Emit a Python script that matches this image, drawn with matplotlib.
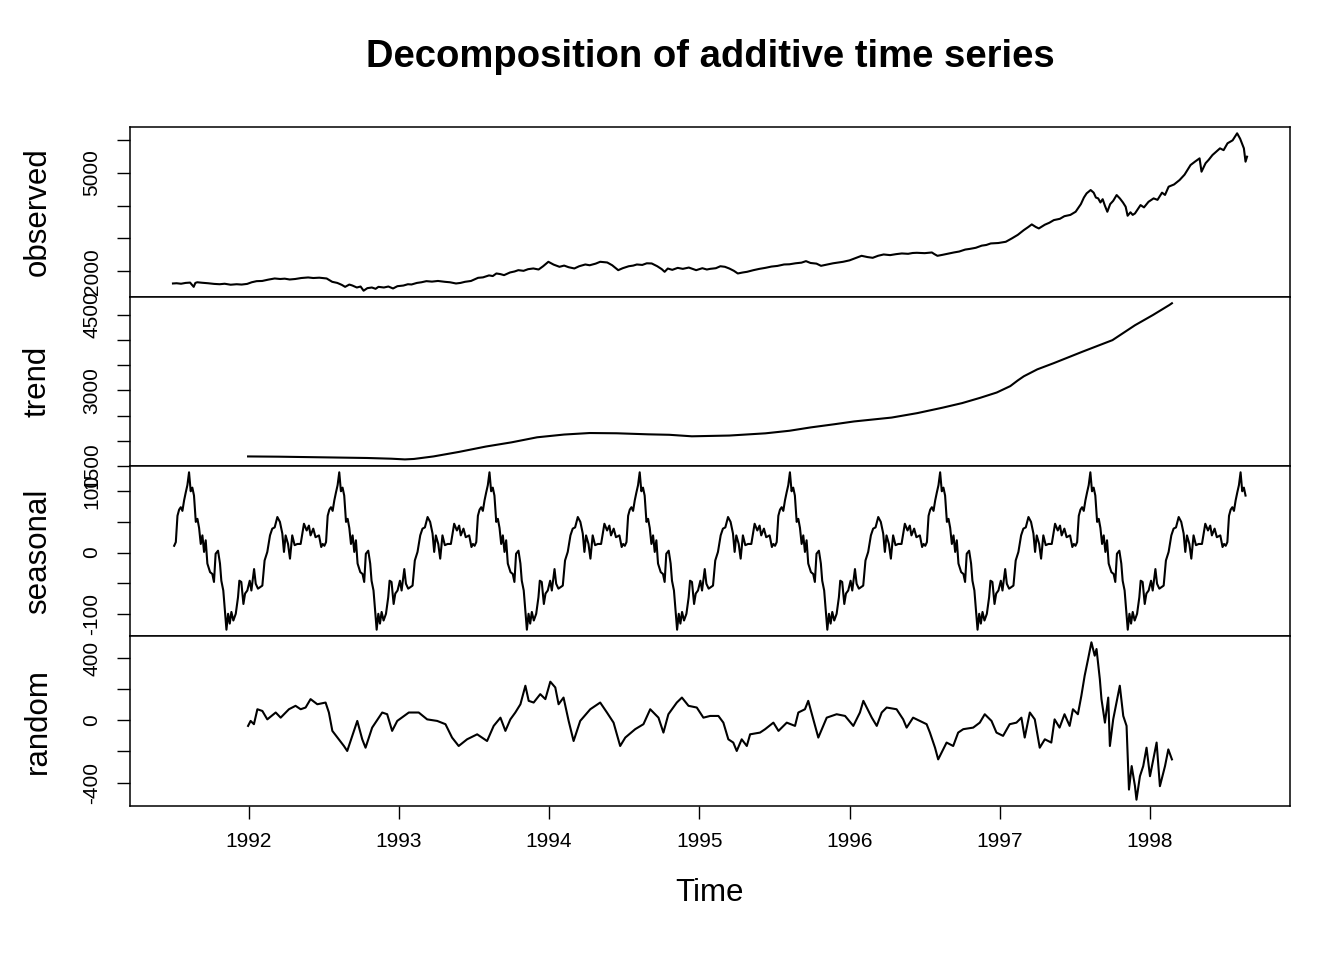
import numpy as np
import matplotlib.pyplot as plt

plt.rcParams['font.family'] = ['Liberation Sans', 'DejaVu Sans']

# observed (DAX closing)
obs_t = [1991.496, 1991.52, 1991.55, 1991.58, 1991.61, 1991.634, 1991.645, 1991.658, 1991.69, 1991.73,
         1991.77, 1991.807, 1991.84, 1991.88, 1991.92, 1991.953, 1991.99, 1992.02, 1992.053, 1992.09,
         1992.13, 1992.173, 1992.21, 1992.24, 1992.273, 1992.31, 1992.35, 1992.396, 1992.43, 1992.47,
         1992.519, 1992.556, 1992.59, 1992.62, 1992.642, 1992.67, 1992.69, 1992.72, 1992.745, 1992.765,
         1992.79, 1992.82, 1992.845, 1992.864, 1992.9, 1992.93, 1992.961, 1992.99, 1993.03, 1993.06,
         1993.084, 1993.12, 1993.15, 1993.183, 1993.22, 1993.26, 1993.306, 1993.34, 1993.38, 1993.41,
         1993.44, 1993.48, 1993.527, 1993.56, 1993.6, 1993.625, 1993.649, 1993.675, 1993.70, 1993.74,
         1993.77, 1993.795, 1993.83, 1993.86, 1993.895, 1993.93, 1993.96, 1993.995, 1994.03, 1994.069,
         1994.1, 1994.13, 1994.168, 1994.2, 1994.241, 1994.27, 1994.31, 1994.34, 1994.387, 1994.42,
         1994.46, 1994.49, 1994.53, 1994.56, 1994.584, 1994.62, 1994.65, 1994.683, 1994.72, 1994.75,
         1994.769, 1994.79, 1994.82, 1994.856, 1994.89, 1994.93, 1994.96, 1994.979, 1995.02, 1995.05,
         1995.072, 1995.11, 1995.14, 1995.17, 1995.2, 1995.23, 1995.256, 1995.29, 1995.318, 1995.36,
         1995.4, 1995.441, 1995.48, 1995.52, 1995.564, 1995.6, 1995.64, 1995.68, 1995.71, 1995.74,
         1995.78, 1995.81, 1995.85, 1995.89, 1995.92, 1995.957, 1996.0, 1996.04, 1996.08, 1996.12,
         1996.154, 1996.19, 1996.227, 1996.27, 1996.31, 1996.348, 1996.39, 1996.42, 1996.448, 1996.5,
         1996.548, 1996.565, 1996.585, 1996.62, 1996.66, 1996.694, 1996.73, 1996.77, 1996.8, 1996.84,
         1996.88, 1996.91, 1996.94, 1996.99, 1997.04, 1997.08, 1997.12, 1997.16, 1997.19, 1997.213,
         1997.24, 1997.26, 1997.3, 1997.33, 1997.36, 1997.4, 1997.43, 1997.47, 1997.505, 1997.54,
         1997.56, 1997.578, 1997.605, 1997.625, 1997.64, 1997.655, 1997.67, 1997.685, 1997.7, 1997.716,
         1997.735, 1997.755, 1997.778, 1997.8, 1997.82, 1997.838, 1997.851, 1997.87, 1997.885, 1997.90,
         1997.92, 1997.937, 1997.96, 1997.99, 1998.024, 1998.05, 1998.08, 1998.1, 1998.124, 1998.16,
         1998.197, 1998.23, 1998.27, 1998.3, 1998.33, 1998.343, 1998.37, 1998.39, 1998.416, 1998.44,
         1998.466, 1998.49, 1998.516, 1998.55, 1998.58, 1998.6, 1998.625, 1998.636, 1998.646]
obs_v = [1623, 1630, 1615, 1640, 1650, 1520, 1640, 1660, 1645, 1630,
         1610, 1600, 1615, 1585, 1600, 1590, 1610, 1660, 1694, 1700,
         1740, 1776, 1760, 1770, 1745, 1760, 1790, 1807, 1790, 1800,
         1776, 1674, 1640, 1580, 1520, 1590, 1561, 1500, 1530, 1402,
         1480, 1500, 1460, 1520, 1500, 1530, 1470, 1540, 1560, 1600,
         1592, 1640, 1660, 1694, 1680, 1700, 1674, 1660, 1623, 1640,
         1674, 1700, 1796, 1810, 1870, 1850, 1929, 1910, 1878, 1960,
         1990, 2030, 2010, 2060, 2082, 2050, 2150, 2286, 2200, 2133,
         2170, 2120, 2082, 2150, 2204, 2180, 2230, 2286, 2265, 2180,
         2030, 2090, 2150, 2170, 2204, 2190, 2240, 2235, 2150, 2060,
         1980, 2080, 2040, 2100, 2070, 2110, 2060, 2030, 2090, 2050,
         2070, 2090, 2150, 2133, 2080, 2010, 1929, 1960, 1980, 2030,
         2070, 2102, 2140, 2160, 2204, 2210, 2240, 2260, 2306, 2250,
         2230, 2163, 2200, 2240, 2260, 2286, 2330, 2400, 2469, 2430,
         2408, 2470, 2510, 2490, 2520, 2541, 2530, 2555, 2561, 2550,
         2571, 2520, 2469, 2500, 2540, 2571, 2600, 2660, 2680, 2714,
         2780, 2800, 2847, 2860, 2898, 3000, 3110, 3255, 3350, 3429,
         3350, 3306, 3420, 3480, 3561, 3600, 3680, 3720, 3816, 4050,
         4250, 4378, 4480, 4400, 4250, 4225, 4100, 4200, 4000, 3816,
         4050, 4150, 4327, 4220, 4100, 3969, 3694, 3800, 3720, 3765,
         3900, 4020, 3950, 4120, 4225, 4180, 4400, 4330, 4582, 4650,
         4786, 4950, 5245, 5350, 5449, 5041, 5300, 5400, 5551, 5650,
         5755, 5700, 5909, 6000, 6215, 6050, 5755, 5347, 5500]

# trend (centred moving average)
trend_t = [1991.996, 1992.2, 1992.5, 1992.79, 1992.95, 1993.04, 1993.1, 1993.23, 1993.4, 1993.58,
           1993.75, 1993.92, 1994.1, 1994.27, 1994.45, 1994.66, 1994.8, 1994.95, 1995.2, 1995.44,
           1995.6, 1995.74, 1995.9, 1996.03, 1996.28, 1996.45, 1996.62, 1996.75, 1996.87, 1996.98,
           1997.07, 1997.12, 1997.16, 1997.25, 1997.36, 1997.55, 1997.75, 1997.9, 1998.02, 1998.13,
           1998.146]
trend_v = [1690, 1685, 1672, 1659, 1645, 1631, 1640, 1690, 1780, 1887,
           1970, 2070, 2125, 2155, 2150, 2129, 2120, 2090, 2105, 2149,
           2200, 2266, 2330, 2385, 2462, 2550, 2659, 2750, 2855, 2960,
           3087, 3200, 3282, 3420, 3544, 3770, 4000, 4296, 4500, 4700,
           4733]

# seasonal figure for one year (phase = fraction of the year)
season_phase = [0.007, 0.018, 0.036, 0.047, 0.062, 0.091, 0.106, 0.124, 0.142, 0.157,
                 0.173, 0.191, 0.208, 0.224, 0.235, 0.246, 0.262, 0.275, 0.290, 0.306,
                 0.324, 0.346, 0.368, 0.386, 0.401, 0.412, 0.430, 0.445, 0.468, 0.483,
                 0.493, 0.504, 0.515, 0.526, 0.537, 0.548, 0.559, 0.570, 0.581, 0.592,
                 0.603, 0.614, 0.625, 0.636, 0.648, 0.659, 0.670, 0.681, 0.692, 0.703,
                 0.714, 0.725, 0.743, 0.758, 0.769, 0.780, 0.796, 0.809, 0.818, 0.831,
                 0.840, 0.852, 0.863, 0.874, 0.885, 0.898, 0.914, 0.929, 0.938, 0.951,
                 0.965, 0.976, 0.991]
season_val = [-46, -62, -27, -51, -59, -54, -13, 1, 28, 39,
              41, 58, 50, 31, 1, 28, 14, -10, 28, 12,
              14, 14, 47, 36, 44, 28, 39, 25, 28, 9,
              14, 11, 17, 60, 70, 74, 68, 85, 98, 110,
              131, 100, 106, 93, 50, 55, 40, 14, 28, 1,
              20, -18, -32, -35, -48, -2, 3, -18, -46, -62,
              -89, -126, -100, -116, -97, -111, -100, -73, -46, -48,
              -84, -67, -62]

# remainder
rand_t = [1991.996, 1992.013, 1992.035, 1992.058, 1992.091, 1992.124, 1992.18, 1992.213,
          1992.268, 1992.312, 1992.346, 1992.379, 1992.412, 1992.457, 1992.512, 1992.534,
          1992.557, 1992.6, 1992.634, 1992.656, 1992.69, 1992.723, 1992.756, 1992.778,
          1992.822, 1992.889, 1992.922, 1992.955, 1992.989, 1993.066, 1993.132, 1993.188,
          1993.255, 1993.31, 1993.354, 1993.398, 1993.454, 1993.521, 1993.587, 1993.631,
          1993.676, 1993.709, 1993.742, 1993.775, 1993.809, 1993.842, 1993.864, 1993.897,
          1993.941, 1993.975, 1994.008, 1994.041, 1994.063, 1994.096, 1994.13, 1994.163,
          1994.207, 1994.274, 1994.34, 1994.385, 1994.429, 1994.473, 1994.507, 1994.573,
          1994.628, 1994.673, 1994.728, 1994.761, 1994.794, 1994.85, 1994.884, 1994.928,
          1994.983, 1995.027, 1995.072, 1995.127, 1995.16, 1995.193, 1995.226, 1995.249,
          1995.282, 1995.316, 1995.338, 1995.404, 1995.438, 1995.493, 1995.527, 1995.582,
          1995.637, 1995.659, 1995.703, 1995.725, 1995.759, 1995.792, 1995.848, 1995.914,
          1995.97, 1996.025, 1996.069, 1996.092, 1996.148, 1996.181, 1996.214, 1996.247,
          1996.313, 1996.357, 1996.38, 1996.423, 1996.468, 1996.513, 1996.535, 1996.569,
          1996.59, 1996.612, 1996.646, 1996.69, 1996.723, 1996.757, 1996.823, 1996.867,
          1996.9, 1996.945, 1996.978, 1997.022, 1997.066, 1997.111, 1997.144, 1997.166,
          1997.2, 1997.233, 1997.266, 1997.3, 1997.343, 1997.365, 1997.398, 1997.431,
          1997.465, 1997.487, 1997.52, 1997.543, 1997.565, 1997.588, 1997.61, 1997.632,
          1997.644, 1997.666, 1997.677, 1997.7, 1997.722, 1997.733, 1997.755, 1997.777,
          1997.799, 1997.822, 1997.844, 1997.86, 1997.878, 1997.9, 1997.91, 1997.933,
          1997.955, 1997.977, 1998.0, 1998.022, 1998.044, 1998.066, 1998.1, 1998.122,
          1998.146]
rand_v = [-36, -4, -25, 71, 60, 6, 50, 17,
          71, 93, 71, 82, 136, 103, 114, 50,
          -68, -122, -165, -197, -100, -4, -122, -176,
          -47, 50, 39, -68, -4, 50, 50, 6,
          -4, -25, -111, -165, -122, -90, -133, -36,
          17, -68, 6, 50, 103, 222, 125, 114,
          168, 136, 248, 211, 103, 146, -4, -133,
          -4, 71, 114, 50, -15, -165, -111, -57,
          -25, 71, 17, -79, 39, 114, 146, 93,
          82, 17, 28, 28, -15, -122, -143, -197,
          -122, -165, -90, -79, -57, -15, -68, -15,
          -36, 50, 71, 125, 6, -111, 17, 39,
          28, -36, 50, 125, 17, -36, 50, 82,
          71, 6, -47, 17, -4, -25, -79, -176,
          -251, -208, -143, -165, -79, -57, -47, -15,
          39, -4, -79, -100, -25, -15, 17, -111,
          50, 6, -176, -122, -143, 6, -47, 39,
          -36, 71, 39, 157, 286, 394, 501, 415,
          458, 265, 136, -15, 146, -165, 6, 114,
          222, 28, -36, -445, -294, -423, -510, -359,
          -294, -176, -359, -251, -143, -423, -294, -187,
          -251]

# build the seasonal series by repeating the yearly figure
season_years = np.arange(1991, 1999)
seas_t = (season_years[:, None] + np.array(season_phase)[None, :]).ravel()
seas_v = np.tile(season_val, len(season_years))
keep = (seas_t >= obs_t[0]) & (seas_t <= obs_t[-1])
seas_t, seas_v = seas_t[keep], seas_v[keep]

panels = [
    ("observed", obs_t, obs_v, [2000, 3000, 4000, 5000, 6000], [2000, 5000]),
    ("trend", trend_t, trend_v, [1500, 2000, 2500, 3000, 3500, 4000, 4500], [1500, 3000, 4500]),
    ("seasonal", seas_t, seas_v, [-100, -50, 0, 50, 100], [-100, 0, 100]),
    ("random", rand_t, rand_v, [-400, -200, 0, 200, 400], [-400, 0, 400]),
]

W, H = 1344, 960
left, right = 130, 1290
edges = [127, 297, 466, 636, 806]

fig = plt.figure(figsize=(W / 100, H / 100), dpi=100)

span = obs_t[-1] - obs_t[0]
xlim = (obs_t[0] - 0.04 * span, obs_t[-1] + 0.04 * span)

for i, (name, t, v, ticks, labelled) in enumerate(panels):
    top, bot = edges[i], edges[i + 1]
    ax = fig.add_axes([left / W, 1 - bot / H, (right - left) / W, (bot - top) / H])
    ax.plot(t, v, color='black', lw=1.5)
    lo, hi = min(v), max(v)
    pad = 0.04 * (hi - lo)
    ax.set_ylim(lo - pad, hi + pad)
    ax.set_xlim(*xlim)
    ax.set_yticks(ticks)
    ax.set_yticklabels([str(k) if k in labelled else '' for k in ticks])
    ax.tick_params(axis='y', direction='out', length=9.5, width=1.0, labelsize=15,
                   pad=11, labelrotation=90)
    for lab in ax.get_yticklabels():
        lab.set_va('center')
    for s in ax.spines.values():
        s.set_linewidth(1.1)
    if i < 3:
        ax.tick_params(axis='x', bottom=False, labelbottom=False)
    else:
        ax.set_xticks(range(1992, 1999))
        ax.tick_params(axis='x', direction='out', length=9.5, width=1.0, labelsize=15, pad=9.5)
    fig.text(38 / W, 1 - (top + bot) / 2 / H, name, rotation=90, ha='center', va='center',
             fontsize=22.5)

fig.text((left + right) / 2 / W, 1 - 57 / H, "Decomposition of additive time series",
         ha='center', va='center', fontsize=27.5, fontweight='bold')
fig.text((left + right) / 2 / W, 1 - 893 / H, "Time", ha='center', va='center', fontsize=22.5)

fig.savefig("out.png", dpi=100)
